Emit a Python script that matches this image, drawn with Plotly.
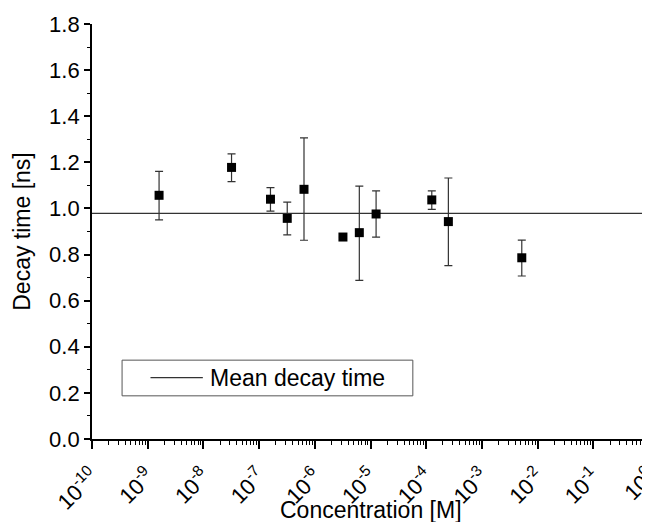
import plotly.graph_objects as go

conc = [1.6e-9, 3.2e-8, 1.6e-7, 3.2e-7, 6.4e-7, 3.2e-6, 6.3e-6, 1.26e-5, 1.26e-4, 2.5e-4, 5.2e-3]
tau = [1.057, 1.178, 1.040, 0.957, 1.083, 0.876, 0.895, 0.976, 1.037, 0.943, 0.786]
tau_hi = [1.161, 1.237, 1.090, 1.027, 1.306, 0.876, 1.097, 1.076, 1.076, 1.132, 0.863]
tau_lo = [0.950, 1.116, 0.988, 0.885, 0.862, 0.876, 0.688, 0.876, 0.996, 0.752, 0.707]
mean_tau = 0.979

x_exponents = list(range(-10, 1))
x_tickvals = [10.0 ** e for e in x_exponents]
x_ticktext = [f"10<sup>{e}</sup>" for e in x_exponents]
x_minor = [m * 10.0 ** e for e in range(-10, 0) for m in range(2, 10)]

FONT = "Arial, Liberation Sans, sans-serif"

err_plus = [h - t for h, t in zip(tau_hi, tau)]
err_minus = [t - l for t, l in zip(tau, tau_lo)]

fig = go.Figure()

fig.add_trace(go.Scatter(
    x=[1e-10, 1e0], y=[mean_tau, mean_tau], mode="lines",
    line=dict(color="#333333", width=1.2), name="Mean decay time",
    showlegend=False, hoverinfo="skip",
))

fig.add_trace(go.Scatter(
    x=conc, y=tau, mode="markers",
    marker=dict(symbol="square", size=9, color="black"),
    error_y=dict(type="data", symmetric=False, array=err_plus, arrayminus=err_minus,
                 color="#333333", thickness=1.2, width=4),
    showlegend=False,
))

# legend box drawn like the original (Origin-style)
fig.add_shape(type="rect", xref="paper", yref="paper", x0=0.054, x1=0.576, y0=0.104, y1=0.19,
              line=dict(color="#555555", width=1), fillcolor="white")
fig.add_shape(type="line", xref="paper", yref="paper", x0=0.105, x1=0.199, y0=0.148, y1=0.148,
              line=dict(color="#333333", width=1.2))
fig.add_annotation(xref="paper", yref="paper", x=0.209, y=0.148, xanchor="left", yanchor="middle",
                   text="Mean decay time", showarrow=False, font=dict(family=FONT, size=23, color="black"))

fig.update_xaxes(
    type="log", range=[-10, 0], automargin=False,
    tickmode="array", tickvals=x_tickvals, ticktext=x_ticktext, tickangle=-45,
    ticks="outside", ticklen=8, tickwidth=1.5, tickcolor="black",
    ticklabelstandoff=6, ticklabeloverflow="allow",
    minor=dict(tickmode="array", tickvals=x_minor, ticks="outside", ticklen=4, tickwidth=1.2, tickcolor="black"),
    showline=True, linecolor="black", linewidth=1.8, showgrid=False, zeroline=False,
    tickfont=dict(family=FONT, size=22, color="black"),
)
fig.update_yaxes(
    range=[0, 1.8], tickmode="linear", tick0=0, dtick=0.2, tickformat=".1f", automargin=False,
    ticks="outside", ticklen=6, tickwidth=1.5, tickcolor="black",
    minor=dict(dtick=0.1, ticks="outside", ticklen=3, tickwidth=1.2, tickcolor="black"),
    showline=True, linecolor="black", linewidth=1.8, showgrid=False, zeroline=False,
    tickfont=dict(family=FONT, size=22, color="black"),
)

# axis titles
fig.add_annotation(xref="paper", yref="paper", x=0.5, y=-0.135, xanchor="center", yanchor="top",
                   text="Concentration [M]", showarrow=False, font=dict(family=FONT, size=23, color="black"))
fig.add_annotation(xref="paper", yref="paper", x=-0.127, y=0.5, xanchor="center", yanchor="middle",
                   textangle=-90, text="Decay time [ns]", showarrow=False,
                   font=dict(family=FONT, size=23, color="black"))

# the page puts the figure 8px in from the corner, so the margins allow for that
fig.update_layout(
    width=650, height=522,
    margin=dict(l=84, r=9, t=16, b=91),
    plot_bgcolor="white", paper_bgcolor="white",
    showlegend=False,
)

fig.write_html("out.html")
